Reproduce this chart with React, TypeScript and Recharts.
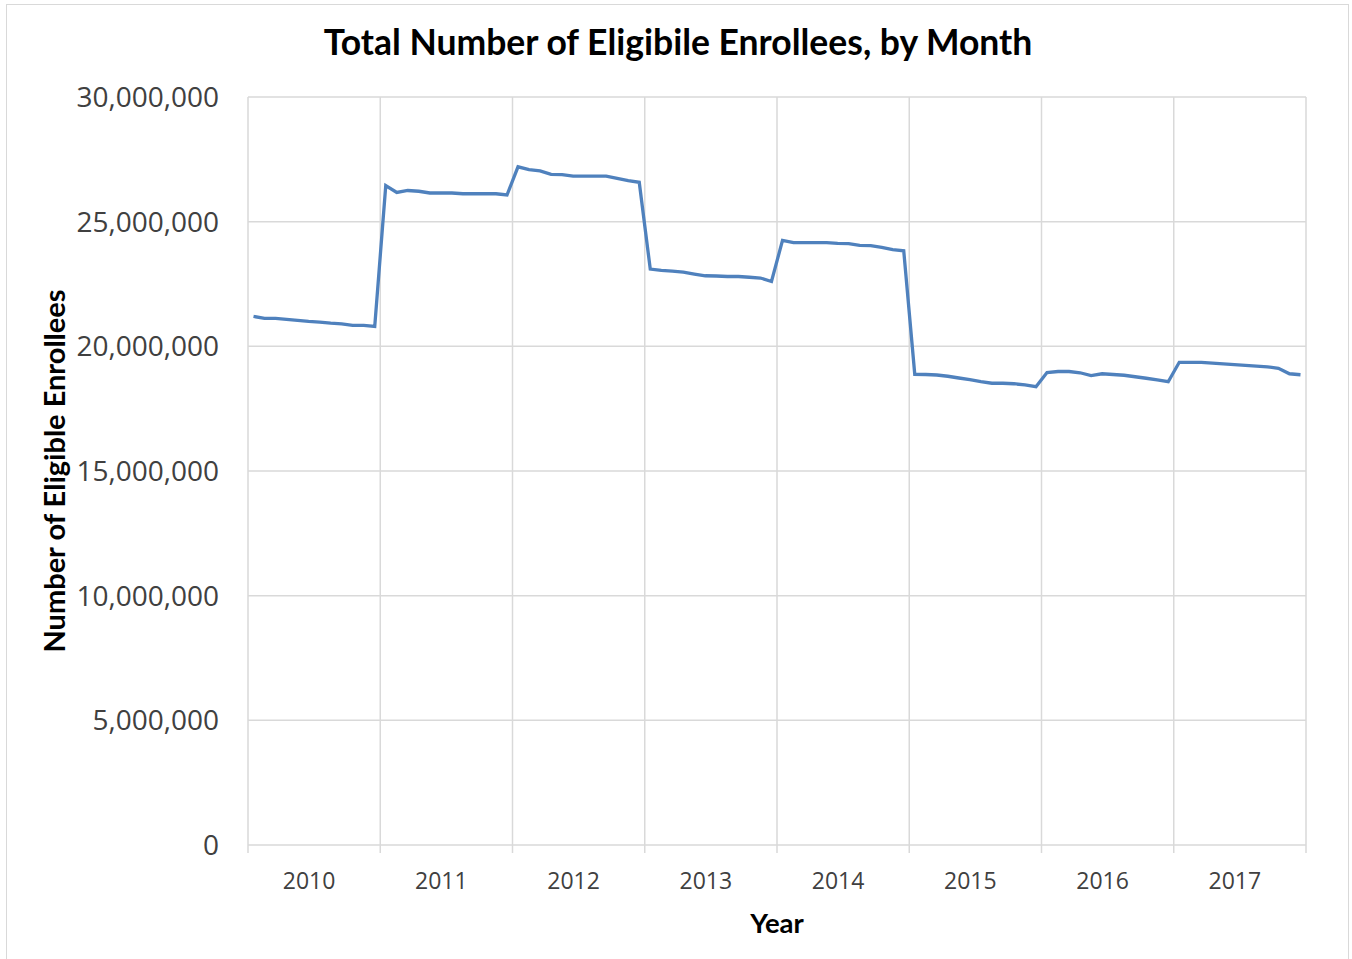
import React from "react";
import {
  LineChart,
  Line,
  XAxis,
  YAxis,
  CartesianGrid,
  ReferenceLine,
} from "recharts";

// monthly totals, in millions
const years = ["2010", "2011", "2012", "2013", "2014", "2015", "2016", "2017"];
const m2010 = [21.2, 21.12, 21.12, 21.08, 21.04, 21.0, 20.97, 20.93, 20.9, 20.84, 20.84, 20.8];
const m2011 = [26.45, 26.17, 26.25, 26.22, 26.15, 26.15, 26.15, 26.12, 26.12, 26.12, 26.12, 26.07];
const m2012 = [27.2, 27.09, 27.04, 26.9, 26.89, 26.83, 26.83, 26.83, 26.83, 26.74, 26.65, 26.58];
const m2013 = [23.1, 23.05, 23.02, 22.98, 22.9, 22.83, 22.82, 22.8, 22.8, 22.77, 22.74, 22.6];
const m2014 = [24.25, 24.16, 24.16, 24.16, 24.16, 24.13, 24.12, 24.05, 24.04, 23.97, 23.88, 23.83];
const m2015 = [18.88, 18.87, 18.85, 18.8, 18.73, 18.66, 18.58, 18.52, 18.52, 18.5, 18.45, 18.38];
const m2016 = [18.95, 18.99, 18.99, 18.94, 18.83, 18.9, 18.87, 18.84, 18.78, 18.72, 18.65, 18.58];
const m2017 = [19.36, 19.36, 19.36, 19.33, 19.3, 19.27, 19.24, 19.21, 19.18, 19.12, 18.9, 18.86];

const yTicks = [0, 5000000, 10000000, 15000000, 20000000, 25000000, 30000000];

const monthly = [m2010, m2011, m2012, m2013, m2014, m2015, m2016, m2017];

const data = monthly.flat().map((v, i) => ({
  x: i + 0.5,
  value: Math.round(v * 1000000),
}));

// year boundaries (for grid + tick marks) and year centres (for labels)
const boundaries = years.map((_, i) => i * 12).concat([years.length * 12]);
const xTicks = boundaries.concat(years.map((_, i) => i * 12 + 6)).sort((a, b) => a - b);

const GRID = "#d9d9d9";

const YearTick = (props: any) => {
  const { x, y, payload } = props;
  const v = payload.value;
  if (v % 12 === 0) {
    return <line x1={x} x2={x} y1={y} y2={y + 8} stroke={GRID} strokeWidth={1.5} />;
  }
  return (
    <text
      x={x - 5}
      y={y + 35}
      textAnchor="middle"
      dominantBaseline="central"
      fontFamily="'Open Sans', sans-serif"
      fontSize={23}
      fill="#404040"
    >
      {years[Math.floor(v / 12)]}
    </text>
  );
};

export default function App() {
  return (
    <div
      style={{
        position: "absolute",
        left: 0,
        top: 0,
        width: 1352,
        height: 959,
        overflow: "hidden",
        background: "#fff",
      }}
    >
      {/* frame */}
      <div
        style={{
          position: "absolute",
          left: 6,
          top: 4,
          width: 1341,
          height: 1000,
          border: "1.5px solid #d9d9d9",
        }}
      />
      <div
        style={{
          position: "absolute",
          left: 0,
          width: 1356,
          top: 20,
          textAlign: "center",
          fontFamily: "Lato, sans-serif",
          fontWeight: 700,
          fontSize: 35.5,
          color: "#000",
        }}
      >
        Total Number of Eligibile Enrollees, by Month
      </div>
      <div style={{ position: "absolute", left: 0, top: 0 }}>
        <LineChart
          width={1352}
          height={959}
          data={data}
          margin={{ top: 97, right: 46, bottom: 54, left: 0 }}
        >
          <CartesianGrid vertical={false} stroke={GRID} strokeWidth={1.5} />
          {boundaries.map((b) => (
            <ReferenceLine key={b} x={b} stroke={GRID} strokeWidth={1.5} />
          ))}
          <XAxis
            dataKey="x"
            type="number"
            domain={[0, 96]}
            ticks={xTicks}
            interval={0}
            tickLine={false}
            axisLine={false}
            tickSize={0}
            tickMargin={0}
            height={60}
            tick={<YearTick />}
            label={{
              content: (p: any) => (
                <text
                  x={p.viewBox.x + p.viewBox.width / 2}
                  y={p.viewBox.y + 77}
                  textAnchor="middle"
                  dominantBaseline="central"
                  fontFamily="Lato, sans-serif"
                  fontWeight={700}
                  fontSize={27.5}
                  fill="#000"
                >
                  Year
                </text>
              ),
            }}
          />
          <YAxis
            width={248}
            domain={[0, 30000000]}
            ticks={yTicks}
            interval={0}
            tickLine={false}
            axisLine={false}
            tickSize={0}
            tickMargin={29}
            tickFormatter={(v: number) => v.toLocaleString("en-US")}
            tick={{
              fontFamily: "'Open Sans', sans-serif",
              fontSize: 28,
              fill: "#404040",
            }}
            label={{
              content: (p: any) => {
                const cx = 53;
                const cy = p.viewBox.y + p.viewBox.height / 2;
                return (
                  <text
                    x={cx}
                    y={cy}
                    transform={`rotate(-90, ${cx}, ${cy})`}
                    textAnchor="middle"
                    dominantBaseline="central"
                    fontFamily="Lato, sans-serif"
                    fontWeight={700}
                    fontSize={29}
                    fill="#000"
                  >
                    Number of Eligible Enrollees
                  </text>
                );
              },
            }}
          />
          <Line
            type="linear"
            dataKey="value"
            stroke="#4F81BD"
            strokeWidth={3.3}
            dot={false}
            isAnimationActive={false}
          />
        </LineChart>
      </div>
    </div>
  );
}
